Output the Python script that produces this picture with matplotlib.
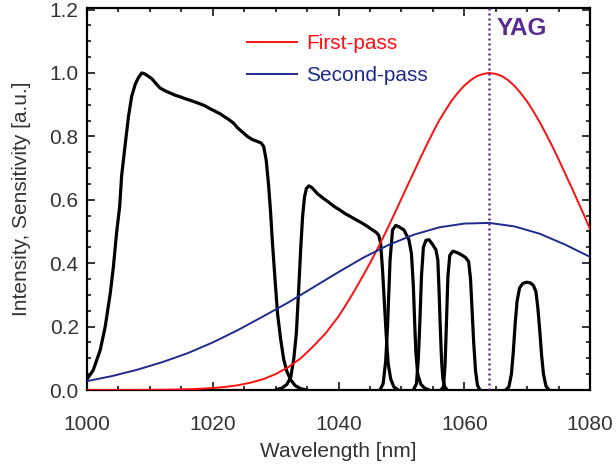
import matplotlib
matplotlib.use("Agg")
import matplotlib.pyplot as plt
from matplotlib.ticker import MultipleLocator

plt.rcParams['font.family'] = ['Liberation Sans', 'DejaVu Sans']

# filter transmission curves (black)
f1_x = [1000.0, 1001.0, 1002.1, 1002.9, 1003.7, 1004.2, 1004.7, 1005.2, 1005.5, 1006.1,
        1006.6, 1007.1, 1007.7, 1008.2, 1008.7, 1009.1, 1009.5, 1010.3, 1011.0, 1011.6,
        1012.4, 1013.2, 1014.0, 1014.8, 1015.6, 1016.4, 1017.1, 1017.8, 1018.7, 1019.6,
        1020.4, 1021.2, 1021.7, 1022.5, 1023.3, 1023.9, 1024.7, 1025.5, 1026.3, 1027.1,
        1027.7, 1028.1, 1028.5, 1028.9, 1029.2, 1029.5, 1029.9, 1030.3, 1030.8, 1031.3,
        1031.8, 1032.4, 1033.1, 1034.0, 1035.0]
f1_y = [0.034, 0.063, 0.126, 0.200, 0.305, 0.389, 0.495, 0.579, 0.674, 0.779,
        0.863, 0.926, 0.966, 0.986, 1.000, 0.998, 0.993, 0.982, 0.966, 0.953,
        0.944, 0.937, 0.930, 0.925, 0.919, 0.914, 0.909, 0.904, 0.897, 0.887,
        0.879, 0.871, 0.864, 0.854, 0.842, 0.828, 0.814, 0.800, 0.790, 0.784,
        0.779, 0.768, 0.725, 0.642, 0.560, 0.463, 0.350, 0.242, 0.160, 0.095,
        0.058, 0.032, 0.014, 0.004, 0.0]

f2_x = [1030.0, 1031.0, 1031.8, 1032.4, 1032.9, 1033.3, 1033.7, 1034.0, 1034.3, 1034.6,
        1034.9, 1035.3, 1035.8, 1036.6, 1037.5, 1038.4, 1039.3, 1040.2, 1041.0, 1041.9,
        1042.8, 1043.7, 1044.6, 1045.4, 1046.0, 1046.4, 1046.7, 1047.0, 1047.3, 1047.6,
        1047.9, 1048.3, 1048.8, 1049.5]
f2_y = [0.0, 0.006, 0.018, 0.040, 0.100, 0.180, 0.330, 0.450, 0.550, 0.610,
        0.636, 0.644, 0.638, 0.620, 0.606, 0.593, 0.579, 0.568, 0.557, 0.547,
        0.537, 0.527, 0.516, 0.505, 0.497, 0.488, 0.463, 0.380, 0.274, 0.170,
        0.084, 0.035, 0.010, 0.0]

f3_x = [1046.6, 1047.1, 1047.5, 1047.8, 1048.2, 1048.6, 1049.1, 1049.6, 1050.4, 1051.2,
        1051.6, 1051.9, 1052.1, 1052.3, 1052.6, 1053.1, 1053.7, 1054.4]
f3_y = [0.0, 0.02, 0.09, 0.20, 0.41, 0.505, 0.519, 0.515, 0.505, 0.474,
        0.43, 0.33, 0.22, 0.12, 0.05, 0.018, 0.006, 0.0]

f4_x = [1051.9, 1052.4, 1052.7, 1052.95, 1053.2, 1053.5, 1053.9, 1054.4, 1055.0, 1055.5,
        1055.8, 1056.0, 1056.2, 1056.4, 1056.6, 1056.9, 1057.3]
f4_y = [0.0, 0.02, 0.10, 0.22, 0.36, 0.45, 0.472, 0.474, 0.458, 0.442,
        0.41, 0.31, 0.19, 0.09, 0.035, 0.01, 0.0]

f5_x = [1056.3, 1056.7, 1056.95, 1057.15, 1057.4, 1057.7, 1058.2, 1058.8, 1059.5, 1060.2,
        1060.7, 1061.0, 1061.25, 1061.5, 1061.8, 1062.1, 1062.5]
f5_y = [0.0, 0.01, 0.08, 0.20, 0.358, 0.425, 0.438, 0.434, 0.427, 0.418,
        0.405, 0.35, 0.25, 0.15, 0.06, 0.015, 0.0]

f6_x = [1066.6, 1067.1, 1067.5, 1067.8, 1068.1, 1068.4, 1068.8, 1069.3, 1069.9, 1070.5,
        1071.0, 1071.4, 1071.7, 1072.0, 1072.3, 1072.6, 1073.0, 1073.5]
f6_y = [0.0, 0.01, 0.05, 0.12, 0.21, 0.28, 0.322, 0.336, 0.340, 0.338,
        0.330, 0.310, 0.26, 0.19, 0.11, 0.05, 0.012, 0.0]

filters = [(f1_x, f1_y), (f2_x, f2_y), (f3_x, f3_y), (f4_x, f4_y), (f5_x, f5_y), (f6_x, f6_y)]

# first-pass gain curve (red): every 2 nm up to 1038, then every 1 nm
first_x = list(range(1000, 1040, 2)) + list(range(1040, 1081))
first_y = [0.0, 0.0, 0.0001, 0.0002, 0.0003, 0.0005, 0.0008, 0.0014, 0.0024, 0.0039,
           0.0062, 0.0097, 0.015, 0.023, 0.034, 0.050, 0.072, 0.100, 0.138, 0.180,
           0.232, 0.263, 0.295, 0.329, 0.364, 0.400, 0.438, 0.477, 0.518, 0.560,
           0.603, 0.646, 0.688, 0.731, 0.772, 0.812, 0.850, 0.882, 0.913, 0.938,
           0.960, 0.977, 0.990, 0.997, 1.000, 0.997, 0.990, 0.977, 0.959, 0.936,
           0.910, 0.879, 0.845, 0.808, 0.769, 0.728, 0.685, 0.642, 0.598, 0.554, 0.508]

# second-pass curve (blue), every 4 nm
second_x = list(range(1000, 1081, 4))
second_y = [0.028, 0.044, 0.064, 0.088, 0.116, 0.150, 0.189, 0.232, 0.276, 0.324,
            0.372, 0.418, 0.458, 0.490, 0.513, 0.525, 0.527, 0.516, 0.493, 0.459, 0.420]

yag_nm = 1064

red = '#ff1010'
blue = '#1e2a8c'
purple = '#5a2a90'
txt = '#333333'

fig = plt.figure(figsize=(6.16, 4.65), dpi=100)
ax = fig.add_axes([87 / 616, 75 / 465, 503 / 616, 382 / 465])

for fx, fy in filters:
    ax.plot(fx, fy, color='black', lw=2.3, zorder=2,
            solid_joinstyle='round', solid_capstyle='round')

ax.plot(first_x, first_y, color=red, lw=1.4, label='First-pass', zorder=3,
        solid_joinstyle='round')
ax.plot(second_x, second_y, color=blue, lw=1.4, label='Second-pass', zorder=3,
        solid_joinstyle='round')
ax.axvline(yag_nm, color=purple, lw=1.8, linestyle=(0, (0.8, 1.2)), zorder=4)
ax.text(yag_nm + 1.1, 1.14, 'YAG', color=purple, fontsize=17.5, fontweight='bold',
        ha='left', va='center')

ax.set_xlim(1000, 1080)
ax.set_ylim(0, 1.205)
ax.xaxis.set_major_locator(MultipleLocator(20))
ax.xaxis.set_minor_locator(MultipleLocator(5))
ax.yaxis.set_major_locator(MultipleLocator(0.2))
ax.yaxis.set_minor_locator(MultipleLocator(0.05))
ax.yaxis.set_major_formatter(plt.FormatStrFormatter('%.1f'))
ax.tick_params(which='both', direction='in', top=True, right=True, width=1.1, colors='black',
               labelcolor=txt, labelsize=15)
ax.tick_params(which='major', length=6)
ax.tick_params(which='minor', length=3)
ax.tick_params(axis='x', which='major', pad=18)
ax.tick_params(axis='y', which='major', pad=6)
for s in ax.spines.values():
    s.set_linewidth(1.6)

ax.set_xlabel('Wavelength [nm]', fontsize=15, color=txt, labelpad=6)
ax.set_ylabel('Intensity, Sensitivity [a.u.]', fontsize=15, color=txt, labelpad=13)

ax.legend(loc='upper left', bbox_to_anchor=(0.318, 0.932), frameon=False, fontsize=15,
          handlelength=2.4, handletextpad=0.45, labelspacing=0.64, borderpad=0,
          borderaxespad=0, labelcolor='linecolor')

fig.savefig('out.png', dpi=100)
